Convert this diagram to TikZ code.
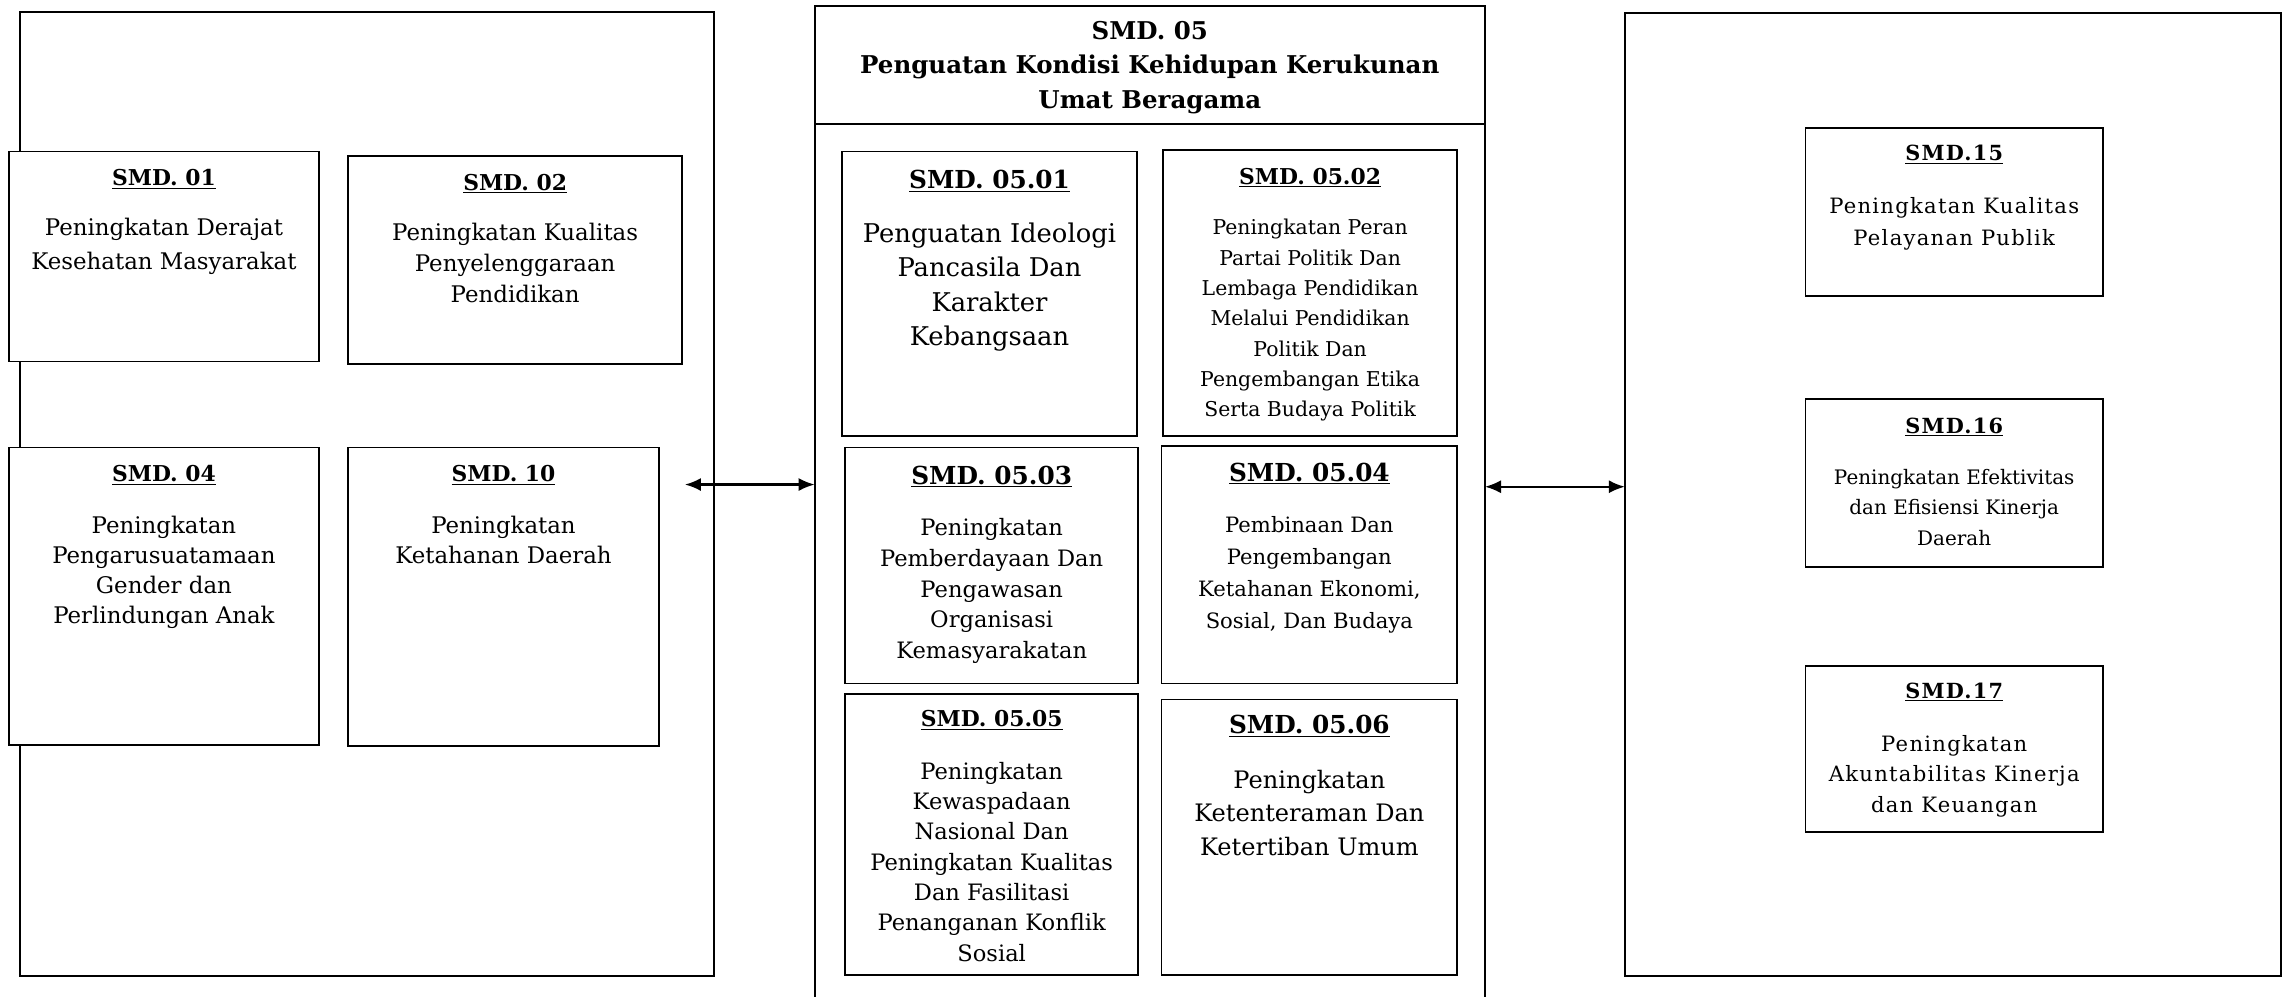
\documentclass[tikz,border=0pt]{standalone}
\usepackage{fontspec}
\setmainfont{DejaVu Serif}
\newfontfamily\spacedserif{DejaVu Serif}[LetterSpace=6]
\usetikzlibrary{arrows.meta}
\newcommand{\setfs}[2]{\fontsize{#1}{#2}\selectfont}
\tikzset{
  panel/.style={draw, line width=1.3pt, fill=none},
  card/.style={draw, line width=1.2pt, inner sep=0pt, outer sep=0pt, anchor=north west},
  head/.style={anchor=base, inner sep=0pt, font=\bfseries},
  body/.style={anchor=north, inner sep=0pt, align=center},
  link/.style={line width=1.5pt, {Latex[length=11pt,width=9pt]}-{Latex[length=11pt,width=9pt]}}
}
\begin{document}
\begin{tikzpicture}[x=1pt,y=-1pt]
\useasboundingbox (0,0) rectangle (1568,684);

% ---------- left panel ----------
\node[panel, inner sep=0pt, outer sep=0pt, anchor=north west, minimum width=476pt, minimum height=662pt] (L) at (14,8) {};

\node[card, fill=white, minimum width=213pt, minimum height=144pt] (b01) at (6,104) {};
\node[head, font=\bfseries\setfs{15}{18}] (h01) at (112.5,127.5) {\underline{SMD. 01}};
\node[body, font=\setfs{15.7}{23}] (t01) at (112.5,149.7) {Peningkatan Derajat\\Kesehatan Masyarakat};

\node[card, minimum width=229pt, minimum height=143pt] (b02) at (239,107) {};
\node[head, font=\bfseries\setfs{15}{18}] (h02) at (353.5,130.5) {\underline{SMD. 02}};
\node[body, font=\setfs{15.7}{21.5}] (t02) at (353.5,152.7) {Peningkatan Kualitas\\Penyelenggaraan\\Pendidikan};

\node[card, fill=white, minimum width=213pt, minimum height=204pt] (b04) at (6,307) {};
\node[head, font=\bfseries\setfs{15}{18}] (h04) at (112.5,330.5) {\underline{SMD. 04}};
\node[body, font=\setfs{15.7}{20.7}] (t04) at (112.5,353.7) {Peningkatan\\Pengarusuatamaan\\Gender dan\\Perlindungan Anak};

\node[card, minimum width=213pt, minimum height=205pt] (b10) at (239,307) {};
\node[head, font=\bfseries\setfs{15}{18}] (h10) at (345.5,330.5) {\underline{SMD. 10}};
\node[body, font=\setfs{15.7}{21}] (t10) at (345.5,353.7) {Peningkatan\\Ketahanan Daerah};

% ---------- middle panel ----------
\node[panel, inner sep=0pt, outer sep=0pt, anchor=north west, minimum width=460pt, minimum height=690pt] (M) at (559,4) {};
\draw[line width=1.3pt] (M.west |- 0,85) coordinate (mdl) -- (M.east |- 0,85) coordinate (mdr);
\node[body, font=\bfseries\setfs{16.8}{23.5}] (title) at (789,14.5) {SMD. 05\\Penguatan Kondisi Kehidupan Kerukunan\\Umat Beragama};

\node[card, minimum width=202pt, minimum height=195pt] (b0501) at (578,104) {};
\node[head, font=\bfseries\setfs{17}{20}] (h0501) at (679,129.3) {\underline{SMD. 05.01}};
\node[body, font=\setfs{17.7}{23.5}] (t0501) at (679,152.8) {Penguatan Ideologi\\Pancasila Dan\\Karakter\\Kebangsaan};

\node[card, minimum width=202pt, minimum height=196pt] (b0502) at (798,103) {};
\node[head, font=\bfseries\setfs{15}{18}] (h0502) at (899,126.5) {\underline{SMD. 05.02}};
\node[body, font=\setfs{14}{20.8}] (t0502) at (899,150.4) {Peningkatan Peran\\Partai Politik Dan\\Lembaga Pendidikan\\Melalui Pendidikan\\Politik Dan\\Pengembangan Etika\\Serta Budaya Politik};

\node[card, minimum width=201pt, minimum height=162pt] (b0503) at (580,307) {};
\node[head, font=\bfseries\setfs{17}{20}] (h0503) at (680.5,332.3) {\underline{SMD. 05.03}};
\node[body, font=\setfs{15.5}{21}] (t0503) at (680.5,355.7) {Peningkatan\\Pemberdayaan Dan\\Pengawasan\\Organisasi\\Kemasyarakatan};

\node[card, minimum width=203pt, minimum height=163pt] (b0504) at (797,306) {};
\node[head, font=\bfseries\setfs{17}{20}] (h0504) at (898.5,330.3) {\underline{SMD. 05.04}};
\node[body, font=\setfs{14.5}{22}] (t0504) at (898.5,354.2) {Pembinaan Dan\\Pengembangan\\Ketahanan Ekonomi,\\Sosial, Dan Budaya};

\node[card, minimum width=201pt, minimum height=193pt] (b0505) at (580,476) {};
\node[head, font=\bfseries\setfs{15}{18}] (h0505) at (680.5,498.5) {\underline{SMD. 05.05}};
\node[body, font=\setfs{15.5}{20.8}] (t0505) at (680.5,522.7) {Peningkatan\\Kewaspadaan\\Nasional Dan\\Peningkatan Kualitas\\Dan Fasilitasi\\Penanganan Konflik\\Sosial};

\node[card, minimum width=203pt, minimum height=189pt] (b0506) at (797,480) {};
\node[head, font=\bfseries\setfs{17}{20}] (h0506) at (898.5,503.3) {\underline{SMD. 05.06}};
\node[body, font=\setfs{16.5}{23}] (t0506) at (898.5,528.2) {Peningkatan\\Ketenteraman Dan\\Ketertiban Umum};

% ---------- right panel ----------
\node[panel, inner sep=0pt, outer sep=0pt, anchor=north west, minimum width=450pt, minimum height=661pt] (R) at (1115,9) {};

\node[card, minimum width=204pt, minimum height=115pt] (b15) at (1239,88) {};
\node[head, font=\spacedserif\bfseries\setfs{14.3}{17}] (h15) at (1341,110.2) {\underline{SMD.15}};
\node[body, font=\spacedserif\setfs{14.5}{22}] (t15) at (1341,135.2) {Peningkatan Kualitas\\Pelayanan Publik};

\node[card, minimum width=204pt, minimum height=115pt] (b16) at (1239,274) {};
\node[head, font=\spacedserif\bfseries\setfs{14.3}{17}] (h16) at (1341,297.2) {\underline{SMD.16}};
\node[body, font=\setfs{13.7}{21}] (t16) at (1341,321.6) {Peningkatan Efektivitas\\dan Efisiensi Kinerja\\Daerah};

\node[card, minimum width=204pt, minimum height=114pt] (b17) at (1239,457) {};
\node[head, font=\spacedserif\bfseries\setfs{14.3}{17}] (h17) at (1341,479.2) {\underline{SMD.17}};
\node[body, font=\spacedserif\setfs{14.5}{21}] (t17) at (1341,504.2) {Peningkatan\\Akuntabilitas Kinerja\\dan Keuangan};

% ---------- connectors ----------
\coordinate (la) at (470,332.5);
\draw[link] (la) -- (la -| M.west);
\coordinate (ra) at (1019,334);
\draw[link] (ra) -- (ra -| R.west);
\end{tikzpicture}
\end{document}
